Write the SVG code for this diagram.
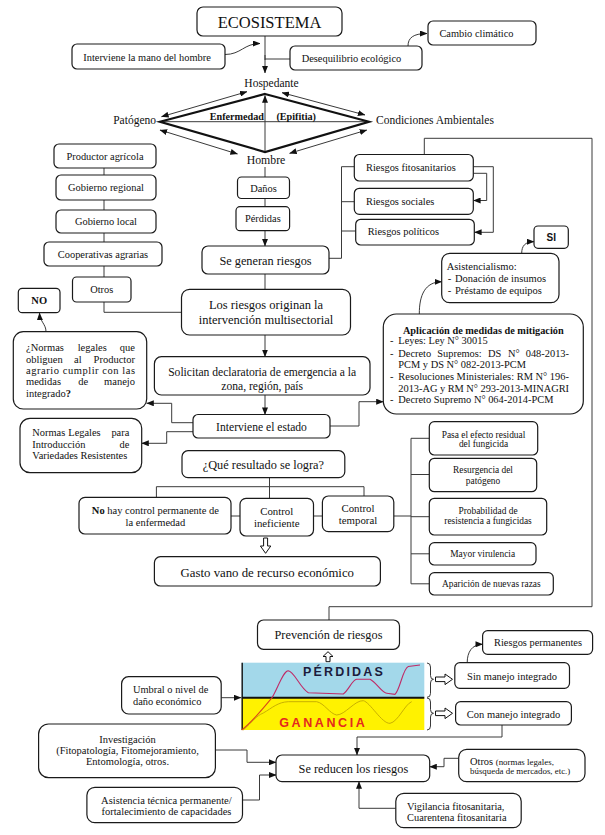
<svg xmlns="http://www.w3.org/2000/svg" width="605" height="835" viewBox="0 0 605 835">
<defs>
<marker id="ah" viewBox="0 0 10 8" refX="9.5" refY="4" markerWidth="7.5" markerHeight="6" markerUnits="userSpaceOnUse" orient="auto-start-reverse"><path d="M0,0 L10,4 L0,8 z" fill="#111"/></marker>
</defs>
<style>
.b{fill:#fff;stroke:#1a1a1a;stroke-width:1.2}
.c{fill:none;stroke:#3a3a3a;stroke-width:1}
.ca{fill:none;stroke:#3a3a3a;stroke-width:1;marker-end:url(#ah)}
.cd{fill:none;stroke:#222;stroke-width:0.9;marker-start:url(#ah);marker-end:url(#ah)}
text{font-family:'Liberation Serif','DejaVu Serif',serif;fill:#111;font-size:10.4px}
.m{text-anchor:middle}
.e{text-anchor:end}
.s{font-size:9.4px}
.L{font-size:12.3px}
.sans{font-family:'Liberation Sans','DejaVu Sans',sans-serif;font-weight:bold}
.h{fill:#fff;stroke:#111;stroke-width:1}
</style>
<rect width="605" height="835" fill="#fff"/>

<g id="connectors">
<path class="c" d="M265,36 V60"/>
<path class="ca" d="M265,55 V73"/>
<path class="ca" d="M225,54.5 C241,54.5 244,43.5 260,43.5"/>
<path class="c" d="M265,59 H290"/>
<path class="ca" d="M408,46 C408,38 413,33.5 427,33.5"/>
<line class="c" x1="160" y1="121.7" x2="369" y2="121.7"/>
<path class="ca" d="M265,152 V95.5"/>
<path class="cd" d="M161.5,116.7 L247,91.7"/>
<path class="cd" d="M282,92.7 L365,115"/>
<path class="cd" d="M160,130 L237.5,154"/>
<path class="cd" d="M289.6,153.3 L366.8,130"/>
<path class="c" d="M104,168 V175 M104,200 V210 M104,233 V242 M104,266 V277 M104,302 V312.3 H181.5"/>
<path class="c" d="M265,167 V177 M265,198.5 V206.7"/>
<path class="ca" d="M265,230.7 V246"/>
<path class="c" d="M265,274 V289.3"/>
<path class="c" d="M329,258.3 H341.5 V166.7 H354.3 M341.5,201.7 H354.3 M341.5,231 H355.7"/>
<path class="ca" d="M473.3,166.7 H493.3 V232.3 H474.5"/>
<path class="ca" d="M473.3,173.3 H486.7 V200.5 H473.5"/>
<path class="c" d="M424.3,154.5 V138.3 H592 V606.7 H329 V620" stroke="#555"/>
<path class="ca" d="M521.7,253.3 C521.7,246 525,241.7 534,241.7"/>
<path class="ca" d="M419.3,314 C419.3,295 425,282 441.7,281.7"/>
<path class="ca" d="M46,331.7 C46,324 40,322 39.5,313"/>
<path class="ca" d="M265,335 V356.7"/>
<path class="ca" d="M265,395 V414.5"/>
<path class="ca" d="M193,422.7 H171.7 V403.3 H146.7"/>
<path class="ca" d="M193,431.7 H166.7 V443.3 H141.7"/>
<path class="ca" d="M330,426 H359 V401.7 H383.3"/>
<path class="c" d="M269.5,477.7 V498.3 M156.4,497.3 V486.7 H364 V496"/>
<path class="c" d="M231,516 H240 M313.5,516 H322.4 M393.8,516 H411"/>
<path class="c" d="M411,438.3 V583.8 M411,438.3 H429.3 M411,474.5 H429.3 M411,516.7 H429.3 M411,553.8 H429.3 M411,583.8 H429.3"/>
<path class="ca" d="M221.2,697.7 H241"/>
<path class="ca" d="M467.2,662.7 C467.2,652 472,644.3 482.6,644.3"/>
<path class="ca" d="M502,725 V737 H357 V755"/>
<path class="ca" d="M215.4,750 H247 V762.3 H276"/>
<path class="ca" d="M242.5,800 H259.5 V775 H276"/>
<path class="ca" d="M458.7,758.3 H444 V766.7 H429.7"/>
<path class="ca" d="M395.8,808.3 H359 V781.7"/>
<polygon class="h" points="263.6,538 267.6,538 267.6,546 270.8,546 265.6,553.3 260.4,546 263.6,546"/>
<polygon class="h" points="326,661.7 330,661.7 330,656.5 333,656.5 328,651.7 323,656.5 326,656.5"/>
<polygon class="h" points="435.5,677 445,677 445,674 452.5,679.3 445,684.6 445,681.6 435.5,681.6"/>
<polygon class="h" points="435.5,711 445,711 445,708 452.5,713.3 445,718.6 445,715.6 435.5,715.6"/>
</g>

<g id="ecosistema"><rect class="b" x="197" y="7" width="145" height="29" rx="6"/><text class="m" x="269.5" y="27.5" style="font-size:16.5px">ECOSISTEMA</text></g>
<g id="interviene-mano"><rect class="b" x="72" y="44" width="153" height="25" rx="5"/><text class="m" x="147" y="60.5">Interviene la mano del hombre</text></g>
<g id="desequilibrio"><rect class="b" x="290" y="46" width="132" height="24" rx="5"/><text x="301.7" y="62">Desequilibrio ecológico</text></g>
<g id="cambio"><rect class="b" x="428" y="21" width="108" height="24" rx="5"/><text x="439.4" y="37">Cambio climático</text></g>

<g id="triangulo">
<polygon points="265,94 369,121.7 265,152 160,121.7" fill="none" stroke="#111" stroke-width="2.2" stroke-linejoin="miter"/>
<text class="m" x="271.5" y="87" style="font-size:11.5px">Hospedante</text>
<text class="e" x="156" y="124" style="font-size:11.5px">Patógeno</text>
<text x="376" y="124" style="font-size:11.5px">Condiciones Ambientales</text>
<text x="209.7" y="120" style="font-weight:bold;font-size:10.2px">Enfermedad</text>
<text x="276.4" y="120" style="font-weight:bold;font-size:10.2px">(Epifitia)</text>
<text class="m" x="266" y="163.5" style="font-size:11.8px">Hombre</text>
</g>

<g id="productor"><rect class="b" x="54" y="144" width="102" height="24" rx="5"/><text class="m" x="105" y="159.7">Productor agrícola</text></g>
<g id="gob-regional"><rect class="b" x="56" y="175" width="100" height="25" rx="5"/><text class="m" x="106" y="191">Gobierno regional</text></g>
<g id="gob-local"><rect class="b" x="56" y="210" width="100" height="23" rx="5"/><text class="m" x="106" y="225">Gobierno local</text></g>
<g id="cooperativas"><rect class="b" x="44" y="242" width="118" height="24" rx="5"/><text class="m" x="103" y="257.5">Cooperativas agrarias</text></g>
<g id="otros1"><rect class="b" x="72.5" y="277" width="58.5" height="25" rx="4"/><text class="m" x="101.7" y="293">Otros</text></g>

<g id="danos"><rect class="b" x="237.5" y="177" width="52" height="21.5" rx="4"/><text class="m" x="263.5" y="191.5">Daños</text></g>
<g id="perdidas"><rect class="b" x="236" y="206.7" width="53.6" height="24" rx="4"/><text class="m" x="262.8" y="222.3">Pérdidas</text></g>
<g id="se-generan"><rect class="b" x="202" y="246" width="127" height="28" rx="6"/><text class="m L" x="265.5" y="264.5">Se generan riesgos</text></g>

<g id="riesgos-fito"><rect class="b" x="354.3" y="154.5" width="119" height="26.5" rx="5"/><text x="366" y="171.3">Riesgos fitosanitarios</text></g>
<g id="riesgos-sociales"><rect class="b" x="354.3" y="188.3" width="119" height="26" rx="5"/><text x="366" y="205.3">Riesgos sociales</text></g>
<g id="riesgos-politicos"><rect class="b" x="355.7" y="219.3" width="118.6" height="25.7" rx="5"/><text x="367.7" y="235.3">Riesgos políticos</text></g>

<g id="si"><rect class="b" x="534" y="226" width="34.3" height="22.3" rx="4"/><text class="m sans" x="551.2" y="241" style="font-size:10px">SI</text></g>
<g id="asistencialismo"><rect class="b" x="441.7" y="253.3" width="117.3" height="49.4" rx="8"/>
<text x="446.7" y="269.7" style="font-size:10.5px">Asistencialismo:</text>
<text x="447.7" y="282" style="font-size:10.5px">-</text><text x="455" y="282" style="font-size:10.5px">Donación de insumos</text>
<text x="447.7" y="294.4" style="font-size:10.5px">-</text><text x="455" y="294.4" style="font-size:10.5px">Préstamo de equipos</text></g>

<g id="los-riesgos"><rect class="b" x="181.5" y="289.3" width="169" height="45.7" rx="8"/><text class="m" x="266" y="309.3" style="font-size:12.5px">Los riesgos originan la</text><text class="m" x="266" y="324.3" style="font-size:12.5px">intervención multisectorial</text></g>

<g id="no"><rect class="b" x="18.3" y="288.3" width="41.7" height="24.4" rx="4"/><text class="m" x="39.2" y="304" style="font-weight:bold;font-size:10.5px">NO</text></g>
<g id="normas-pregunta"><rect class="b" x="13.3" y="331.7" width="133.4" height="77.3" rx="10"/>
<text x="26" y="351.4" style="font-size:10.5px">¿Normas</text><text x="77.7" y="351.4" style="font-size:10.5px">legales</text><text class="e" x="135" y="351.4" style="font-size:10.5px">que</text>
<text x="26" y="362.7" style="font-size:10.5px">obliguen</text><text x="74" y="362.7" style="font-size:10.5px">al</text><text class="e" x="135" y="362.7" style="font-size:10.5px">Productor</text>
<text x="26" y="374" style="font-size:10.5px" textLength="109" lengthAdjust="spacing">agrario cumplir con las</text>
<text x="26" y="385.4" style="font-size:10.5px">medidas</text><text x="78.3" y="385.4" style="font-size:10.5px">de</text><text class="e" x="135" y="385.4" style="font-size:10.5px">manejo</text>
<text x="26" y="397" style="font-size:10.5px">integrado<tspan style="font-weight:bold">?</tspan></text></g>

<g id="solicitan"><rect class="b" x="154.4" y="356.7" width="215.6" height="38.3" rx="7"/><text class="m" x="262.2" y="375.8" style="font-size:11.6px">Solicitan declaratoria de emergencia a la</text><text class="m" x="262.2" y="390" style="font-size:11.6px">zona, región, país</text></g>

<g id="aplicacion"><rect class="b" x="383.3" y="314" width="200" height="100" rx="13"/>
<text class="m" x="483.3" y="333.5" style="font-weight:bold;font-size:10.3px">Aplicación de medidas de mitigación</text>
<text x="390" y="343.6">-</text><text x="398.3" y="343.6">Leyes: Ley N° 30015</text>
<text x="390" y="356.9">-</text><text x="398.3" y="356.9">Decreto</text><text x="437.3" y="356.9">Supremos:</text><text x="488" y="356.9">DS</text><text x="508" y="356.9">N°</text><text class="e" x="569" y="356.9">048-2013-</text>
<text x="398.3" y="367.9">PCM y DS N° 082-2013-PCM</text>
<text x="390" y="380.3">-</text><text x="398.3" y="380.3" textLength="170.7" lengthAdjust="spacing">Resoluciones Ministeriales: RM N° 196-</text>
<text x="398.3" y="391.9" textLength="170.7" lengthAdjust="spacing">2013-AG y RM N° 293-2013-MINAGRI</text>
<text x="390" y="402.9">-</text><text x="398.3" y="402.9">Decreto Supremo N° 064-2014-PCM</text></g>

<g id="interviene-estado"><rect class="b" x="193" y="414.5" width="137" height="23.5" rx="5"/><text class="m" x="261.5" y="430.5" style="font-size:11.6px">Interviene el estado</text></g>
<g id="normas-legales"><rect class="b" x="20" y="418.3" width="121.7" height="54.4" rx="10"/>
<text x="32.3" y="436.4">Normas</text><text x="68.3" y="436.4">Legales</text><text class="e" x="129.3" y="436.4">para</text>
<text x="32.3" y="447.7">Introducción</text><text class="e" x="129.3" y="447.7">de</text>
<text x="32.3" y="458.7">Variedades Resistentes</text></g>

<g id="que-resultado"><rect class="b" x="182" y="450.7" width="162.8" height="27" rx="6"/><text class="m L" x="263.4" y="468.5">¿Qué resultado se logra?</text></g>
<g id="no-hay"><rect class="b" x="79" y="497.3" width="152" height="36.7" rx="6"/><text class="m" x="155.4" y="513.5" style="font-size:10.5px"><tspan style="font-weight:bold">No</tspan> hay control permanente de</text><text class="m" x="155.4" y="525.5" style="font-size:10.5px">la enfermedad</text></g>
<g id="ineficiente"><rect class="b" x="240" y="498.3" width="73.5" height="37.7" rx="6"/><text class="m" x="276.7" y="514.5" style="font-size:10.8px">Control</text><text class="m" x="276.7" y="527" style="font-size:10.8px">ineficiente</text></g>
<g id="temporal"><rect class="b" x="322.4" y="496" width="71.4" height="35.7" rx="6"/><text class="m" x="358" y="512" style="font-size:10.8px">Control</text><text class="m" x="358" y="524" style="font-size:10.8px">temporal</text></g>

<g id="pasa"><rect class="b" x="429.3" y="421.7" width="108.4" height="33.3" rx="5"/><text class="m s" x="483.5" y="437.5">Pasa el efecto residual</text><text class="m s" x="483.5" y="447.3">del fungicida</text></g>
<g id="resurgencia"><rect class="b" x="429.3" y="458.3" width="107.4" height="33.4" rx="5"/><text class="m s" x="483" y="473.3">Resurgencia del</text><text class="m s" x="483" y="484">patógeno</text></g>
<g id="probabilidad"><rect class="b" x="429.3" y="498.3" width="117.4" height="36.7" rx="5"/><text class="m s" x="488" y="514">Probabilidad de</text><text class="m s" x="488" y="524.3">resistencia a fungicidas</text></g>
<g id="virulencia"><rect class="b" x="429.3" y="542.7" width="106.7" height="22.3" rx="5"/><text class="m s" x="482.7" y="557.3">Mayor virulencia</text></g>
<g id="aparicion"><rect class="b" x="429.3" y="572.7" width="124" height="22.3" rx="5"/><text class="m s" x="491.3" y="587.3">Aparición de nuevas razas</text></g>

<g id="gasto"><rect class="b" x="154.4" y="556.7" width="226" height="29.3" rx="6"/><text class="m" x="267.3" y="576.5" style="font-size:12.8px">Gasto vano de recurso económico</text></g>

<g id="prevencion"><rect class="b" x="257.5" y="620" width="142" height="29.3" rx="6"/><text class="m L" x="328.5" y="639.3">Prevención de riesgos</text></g>

<g id="grafico">
<rect x="241.7" y="662.7" width="182.6" height="35" fill="#a3d8ea"/>
<rect x="241.7" y="697.7" width="182.6" height="32.3" fill="#fff200"/>
<line x1="241.7" y1="697.7" x2="424.3" y2="697.7" stroke="#111" stroke-width="2"/>
<line x1="242.2" y1="662.7" x2="242.2" y2="730" stroke="#111" stroke-width="1.4"/>
<path d="M243.3,730 C252,722 256,716 263.3,713 C272,708 278,702 288.3,701.7 L316.7,701.7 C324,703 330,714 336.7,715 C345,715 355,700 363.3,700.7 C370,702 382,724 390,723.3 C398,722 405,704 411.7,701.7" fill="none" stroke="#c2a800" stroke-width="0.9"/>
<path d="M241.7,730 C252,722 262,710 272,697.7" fill="none" stroke="#d9481a" stroke-width="1.1"/>
<path d="M272,697.7 C278,688 283,671 288.3,670.7 C294,671 300,688 308.3,692.7 L343.3,694 C349,690 352,680 356.7,679.3 L370,679.3 C376,682 382,693 386.7,693.3 L395,694.3 C400,690 403,668 408.3,666.5 L420,665" fill="none" stroke="#c02a66" stroke-width="1.1"/>
<text class="m sans" x="344" y="676.2" style="font-size:12.5px;letter-spacing:2.2px;fill:#1c1c3c">PÉRDIDAS</text>
<text class="m sans" x="323.3" y="727" style="font-size:12.5px;letter-spacing:2.6px;fill:#e5281e">GANANCIA</text>
<path d="M427,663 Q430.5,663 430.5,667 V675.5 Q430.5,679.3 433.5,679.3 Q430.5,679.3 430.5,683 V693.5 Q430.5,697.3 427,697.3" fill="none" stroke="#222" stroke-width="0.9"/>
<path d="M427,698 Q430.5,698 430.5,702 V709.5 Q430.5,713.3 433.5,713.3 Q430.5,713.3 430.5,717 V726 Q430.5,730 427,730" fill="none" stroke="#222" stroke-width="0.9"/>
</g>

<g id="umbral"><rect class="b" x="121.6" y="676.7" width="99.6" height="37.3" rx="7"/><text x="133" y="693">Umbral o nivel de</text><text x="133" y="704.6">daño económico</text></g>
<g id="sin-manejo"><rect class="b" x="454.8" y="662.7" width="114.7" height="25.6" rx="5"/><text class="m" x="512" y="679.6" style="font-size:10.5px">Sin manejo integrado</text></g>
<g id="riesgos-permanentes"><rect class="b" x="482.6" y="630.7" width="110" height="23.6" rx="5"/><text class="m" x="538" y="646.3">Riesgos permanentes</text></g>
<g id="con-manejo"><rect class="b" x="455.6" y="701.7" width="115.8" height="23.3" rx="5"/><text class="m" x="513.5" y="717.6" style="font-size:10.5px">Con manejo integrado</text></g>

<g id="se-reducen"><rect class="b" x="276" y="755" width="153.7" height="26.7" rx="6"/><text class="m L" x="353.4" y="772.5">Se reducen los riesgos</text></g>
<g id="investigacion"><rect class="b" x="38.6" y="724" width="176.8" height="53.7" rx="10"/><text class="m" x="127.5" y="743" style="font-size:10.5px">Investigación</text><text class="m" x="127.5" y="754.4" style="font-size:10.5px">(Fitopatología, Fitomejoramiento,</text><text class="m" x="127.5" y="765.4" style="font-size:10.5px">Entomología, otros.</text></g>
<g id="asistencia"><rect class="b" x="86.9" y="787.3" width="155.6" height="35.4" rx="8"/><text class="m" x="166.4" y="804.4" style="font-size:10.5px">Asistencia técnica permanente/</text><text class="m" x="166.4" y="815.4" style="font-size:10.5px">fortalecimiento de capacidades</text></g>
<g id="otros2"><rect class="b" x="458.7" y="749.3" width="126.3" height="32.4" rx="8"/><text x="470" y="764.5">Otros <tspan style="font-size:8.9px">(normas legales,</tspan></text><text x="470" y="774" style="font-size:8.9px">búsqueda de mercados, etc.)</text></g>
<g id="vigilancia"><rect class="b" x="395.8" y="793.3" width="125.4" height="34.4" rx="8"/><text x="407" y="810.3">Vigilancia fitosanitaria,</text><text x="407" y="821">Cuarentena fitosanitaria</text></g>
</svg>
